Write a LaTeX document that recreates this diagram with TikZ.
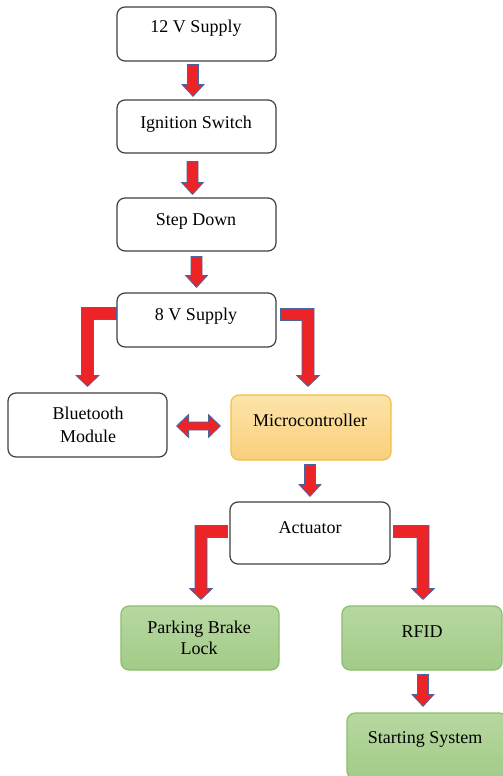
\documentclass[tikz,border=0pt]{standalone}
\usepackage{fontspec}
\setmainfont{Liberation Serif}
\usetikzlibrary{calc}
\definecolor{boxline}{HTML}{404040}
\definecolor{arrred}{HTML}{EC2428}
\definecolor{arrline}{HTML}{4A66A0}
\definecolor{orTop}{HTML}{FDE4AA}
\definecolor{orBot}{HTML}{F9CF7C}
\definecolor{orLine}{HTML}{F5C040}
\definecolor{grTop}{HTML}{B6D8A0}
\definecolor{grBot}{HTML}{A3CB88}
\definecolor{grLine}{HTML}{8DBE6C}
\newcommand\dnarrow[2]{\draw[barrow] let \p1=(#1), \p2=(#2) in
  (\x1-5.5pt,\y1) -- (\x1+5.5pt,\y1) -- (\x1+5.5pt,\y2+12pt) -- (\x1+11pt,\y2+12pt)
  -- (\x1,\y2) -- (\x1-11pt,\y2+12pt) -- (\x1-5.5pt,\y2+12pt) -- cycle;}
\newcommand\elbowL[2]{\draw[barrow] let \p1=(#1), \p2=(#2) in
  (\x1,\y1+6pt) -- (\x2-6pt,\y1+6pt) -- (\x2-6pt,\y2+11pt) -- (\x2-11.5pt,\y2+11pt)
  -- (\x2,\y2) -- (\x2+11.5pt,\y2+11pt) -- (\x2+6pt,\y2+11pt) -- (\x2+6pt,\y1-6pt)
  -- (\x1,\y1-6pt) -- cycle;}
\newcommand\elbowR[2]{\draw[barrow] let \p1=(#1), \p2=(#2) in
  (\x1,\y1+6pt) -- (\x2+6pt,\y1+6pt) -- (\x2+6pt,\y2+11pt) -- (\x2+11.5pt,\y2+11pt)
  -- (\x2,\y2) -- (\x2-11.5pt,\y2+11pt) -- (\x2-6pt,\y2+11pt) -- (\x2-6pt,\y1-6pt)
  -- (\x1,\y1-6pt) -- cycle;}
\newcommand\lrarrow[2]{\draw[barrow] let \p1=(#1), \p2=(#2) in
  (\x1,\y1) -- (\x1+12pt,\y1+11.5pt) -- (\x1+12pt,\y1+4pt) -- (\x2-12pt,\y1+4pt)
  -- (\x2-12pt,\y1+11.5pt) -- (\x2,\y1) -- (\x2-12pt,\y1-11.5pt) -- (\x2-12pt,\y1-4pt)
  -- (\x1+12pt,\y1-4pt) -- (\x1+12pt,\y1-11.5pt) -- cycle;}
\begin{document}
\begin{tikzpicture}[x=1pt,y=-1pt,
  box/.style={draw=boxline, line width=1.2pt, rounded corners=8pt, fill=white, inner sep=0pt},
  orbox/.style={draw=orLine, line width=1.2pt, rounded corners=8pt, top color=orTop, bottom color=orBot, inner sep=0pt},
  grbox/.style={draw=grLine, line width=1.2pt, rounded corners=8pt, top color=grTop, bottom color=grBot, inner sep=0pt},
  txt/.style={font=\fontsize{18}{22}\selectfont, text=black, inner sep=0pt, anchor=base},
  barrow/.style={fill=arrred, draw=arrline, line width=0.8pt, line join=miter}]
\fill[white] (0,0) rectangle (503,776);
\clip (0,0) rectangle (503,776);
% boxes
\node[box, minimum width=159, minimum height=54] (s12) at (196.5,34) {};
\node[box, minimum width=159, minimum height=53] (ign) at (196.5,126.5) {};
\node[box, minimum width=159, minimum height=53] (sd) at (196.5,224.5) {};
\node[box, minimum width=159, minimum height=54] (s8) at (196.5,320) {};
\node[box, minimum width=159, minimum height=64] (bt) at (87.5,425) {};
\node[orbox, minimum width=160, minimum height=65] (mc) at (311,427.5) {};
\node[box, minimum width=160, minimum height=62] (act) at (310,533) {};
\node[grbox, minimum width=158, minimum height=64] (pb) at (200,638) {};
\node[grbox, minimum width=160, minimum height=64] (rf) at (422,638) {};
\node[grbox, minimum width=160, minimum height=66] (ss) at (427,746) {};
% texts
\node[txt] (s12t) at (196,33) {12 V Supply};
\node[txt] (ignt) at (196,128) {Ignition Switch};
\node[txt] (sdt) at (196,225) {Step Down};
\node[txt] (s8t) at (196,320) {8 V Supply};
\node[txt] (bt1) at (88,419) {Bluetooth};
\node[txt] (bt2) at (88,442) {Module};
\node[txt] (mct) at (310,426) {Microcontroller};
\node[txt] (actt) at (310,533) {Actuator};
\node[txt] (pb1) at (199,633) {Parking Brake};
\node[txt] (pb2) at (199,654) {Lock};
\node[txt] (rft) at (422,637) {RFID};
\node[txt] (sst) at (425,743) {Starting System};
% arrows
\dnarrow{$(s12.south)+(-3.5,3)$}{$(ign.north)+(-3.5,-3)$}
\dnarrow{$(ign.south)+(-4,8)$}{$(sd.north)+(-4,-3)$}
\dnarrow{$(sd.south)+(0,5)$}{$(s8.north)+(0,-5)$}
\elbowL{$(s8.north west)+(0,21)$}{$(bt.north)+(0,-6)$}
\elbowR{$(s8.north east)+(4,22)$}{$(mc.north)+(-3,-8)$}
\lrarrow{$(bt.east)+(9,1)$}{$(mc.west)+(-10,0)$}
\dnarrow{$(mc.south)+(-1,4)$}{$(act.north)+(-1,-5)$}
\elbowL{$(act.north west)+(-2,30)$}{$(pb.north)+(1,-6)$}
\elbowR{$(act.north east)+(3,30)$}{$(rf.north)+(1,-6)$}
\dnarrow{$(rf.south)+(1,4)$}{$(ss.north)+(-4,-6)$}
\end{tikzpicture}
\end{document}
